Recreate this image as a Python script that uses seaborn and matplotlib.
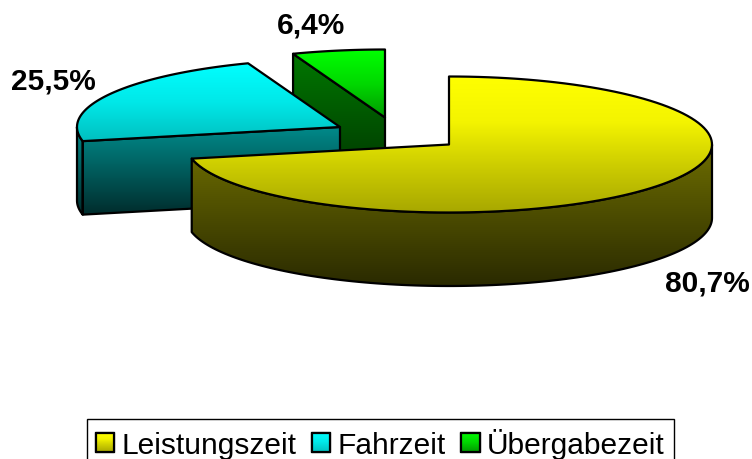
import numpy as np
import matplotlib
matplotlib.use("Agg")
import matplotlib.pyplot as plt
import seaborn as sns
from matplotlib.patches import Patch, Polygon

categories = ["Leistungszeit", "Fahrzeit", "Übergabezeit"]
values = [80.7, 25.5, 6.4]

top_colors = [["#ffff00", "#f4f400", "#cccc00", "#a8a800"],
              ["#00ffff", "#00e8e8", "#00c0c0"],
              ["#00ff00", "#00d800", "#009800"]]
side_colors = [["#6e6e00", "#2a2a00"],
               ["#008a8a", "#002c2c"],
               ["#007800", "#003000"]]

# apex of every slice in pixels, the two small ones are pulled out
apex = [(449, 145.5), (340, 128), (385, 118.5)]
rx, ry, depth = 263, 68, 73.5
label_pos = [(707, 284), (53.5, 81.5), (311, 25.5)]
LW = 1.6

sns.set_theme(style="white")
plt.rcParams["font.family"] = ["Liberation Sans", "DejaVu Sans"]

fig = plt.figure(figsize=(7.52, 4.6), dpi=100)
ax = fig.add_axes([0, 0, 1, 1])
ax.set_xlim(0, 752)
ax.set_ylim(460, 0)
ax.axis("off")


def rim(c, a0, a1, dy=0):
    t = np.radians(np.linspace(a0, a1, 120))
    return np.column_stack([c[0] + rx * np.sin(t), c[1] - ry * np.cos(t) + dy])


def face(xy, colors, z):
    xy = np.asarray(xy)
    cmap = sns.blend_palette(colors, as_cmap=True)
    im = ax.imshow(np.linspace(0, 1, 256)[:, None], cmap=cmap, aspect="auto", zorder=z,
                   extent=[xy[:, 0].min(), xy[:, 0].max(), xy[:, 1].max(), xy[:, 1].min()])
    poly = Polygon(xy, closed=True, fc="none", ec="black", lw=LW, joinstyle="round", zorder=z + 0.1)
    ax.add_patch(poly)
    im.set_clip_path(poly)


edges = np.concatenate([[0], np.cumsum(values)]) / sum(values) * 360

# back to front: green, teal, yellow
for i in [2, 1, 0]:
    c, a0, a1 = apex[i], edges[i], edges[i + 1]
    z = (3 - i) * 2
    if i > 0:
        # cut face of the pulled out slice
        p = rim(c, a0, a0)[0]
        face([p, c, (c[0], c[1] + depth), (p[0], p[1] + depth)], side_colors[i], z)
    lo, hi = max(a0, 90), min(a1, 270)
    if lo < hi:
        arc = rim(c, lo, hi)
        face(np.vstack([arc, rim(c, hi, lo, depth)]), side_colors[i], z)
    face(np.vstack([[c], rim(c, a0, a1)]), top_colors[i], z + 0.5)

for v, pos in zip(values, label_pos):
    ax.text(pos[0], pos[1], f"{v:.1f}%".replace(".", ","), ha="center", va="center",
            fontsize=21.5, fontweight="bold", color="black", zorder=20)

handles = [Patch(fc=top_colors[i][0], ec="black", lw=LW) for i in range(3)]
leg = ax.legend(handles, categories, ncol=3, loc="upper left", bbox_to_anchor=(87 / 752, 1 - 420 / 460),
                fontsize=21.5, labelcolor="black", frameon=True, fancybox=False, edgecolor="black",
                framealpha=1, handlelength=0.62, handleheight=0.62, handletextpad=0.25,
                columnspacing=0.5, borderaxespad=0, borderpad=0.3)
leg.get_frame().set_linewidth(1.0)
leg.set_zorder(30)

# legend keys carry the same vertical gradient as the slices
fig.canvas.draw()
inv = ax.transData.inverted()
for patch, cols in zip(leg.get_patches(), top_colors):
    bb = patch.get_window_extent().transformed(inv)
    box = [(bb.x0, bb.y0), (bb.x1, bb.y0), (bb.x1, bb.y1), (bb.x0, bb.y1)]
    face(box, cols, 31)
ax.set_xlim(0, 752)
ax.set_ylim(460, 0)

fig.savefig("out.png", dpi=100)
